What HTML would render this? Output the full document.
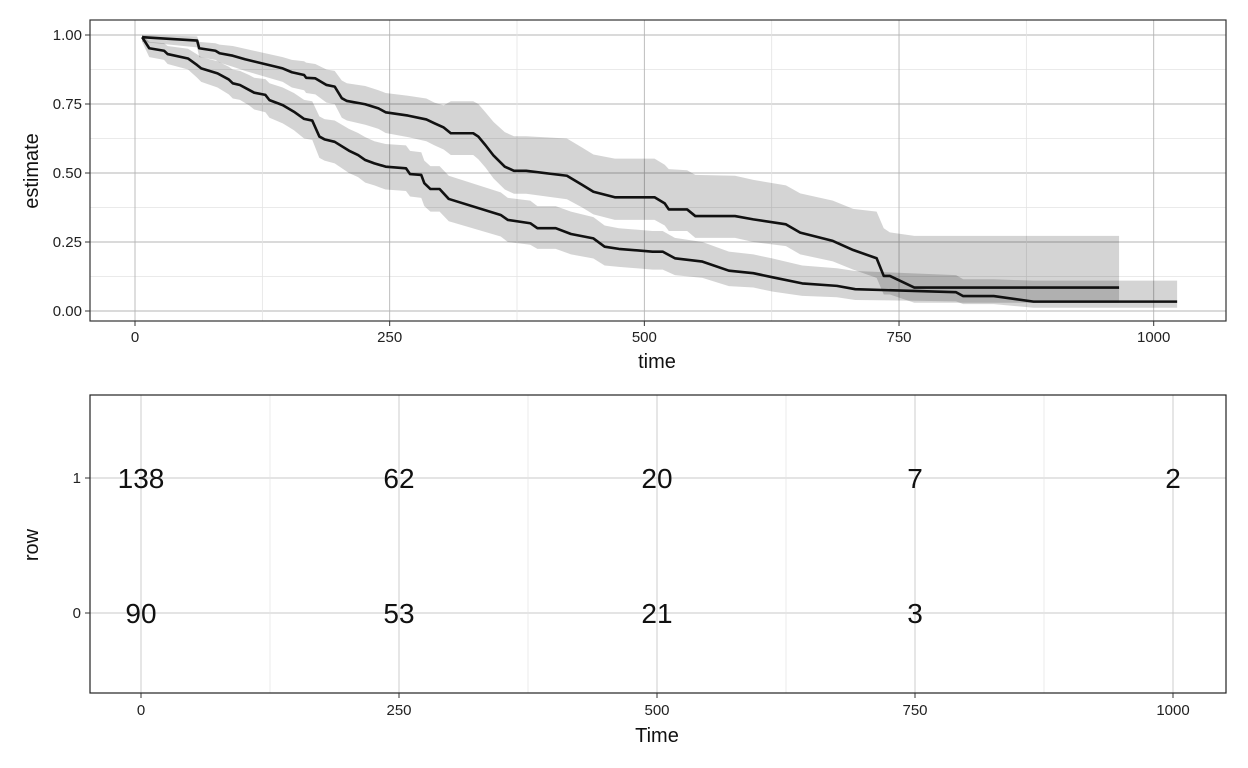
<!DOCTYPE html>
<html><head><meta charset="utf-8"><style>
html,body{margin:0;padding:0;background:#fff;}
svg{display:block;font-family:"Liberation Sans",sans-serif;}
</style></head><body>
<svg id="chart" width="1248" height="768" xmlns="http://www.w3.org/2000/svg"></svg>
<script>
// ---- data: survival curves ----
const g1Time=[7,61,63,79,83,96,108,145,154,166,168,177,188,196,203,208,226,239,246,268,286,294,303,310,332,337,344,352,363,372,384,424,439,450,471,510,520,524,542,550,589,607,639,653,685,705,728,735,741,765,966];
const g1Est=[.992,.980,.952,.943,.934,.925,.912,.879,.865,.855,.845,.843,.819,.813,.771,.761,.749,.734,.720,.708,.694,.680,.665,.644,.644,.632,.601,.563,.523,.508,.508,.490,.457,.432,.412,.412,.390,.368,.368,.344,.344,.332,.314,.284,.254,.221,.191,.127,.127,.085,.085];
const g1Lo=[.975,.955,.92,.91,.90,.885,.87,.83,.81,.80,.79,.785,.755,.75,.70,.69,.675,.66,.645,.63,.615,.60,.585,.565,.565,.55,.52,.48,.44,.425,.425,.405,.375,.35,.33,.33,.31,.29,.29,.265,.265,.25,.235,.205,.18,.15,.12,.06,.06,.03,.03];
const g1Hi=[1.0,.995,.975,.97,.965,.96,.95,.92,.91,.905,.90,.895,.875,.87,.835,.825,.815,.80,.79,.78,.77,.755,.745,.76,.76,.75,.72,.685,.648,.633,.633,.625,.592,.567,.552,.552,.53,.514,.51,.493,.49,.475,.455,.426,.40,.37,.36,.30,.285,.272,.272];
const g0Time=[7,14,28.5,32,52,61,65,81,92,96,103,112,117,128,132,145,156,166,174,181,186,196,210,219,226,235,246,266,270,281,284,290,299,308,359,366,388,395,413,428,450,461,475,508,518,530,557,583,607,626,655,689,707,806,813,843,882,1023];
const g0Est=[.992,.952,.943,.931,.915,.891,.879,.861,.839,.825,.819,.801,.791,.783,.764,.746,.722,.696,.690,.632,.622,.613,.581,.565,.547,.535,.523,.517,.496,.493,.463,.442,.442,.406,.348,.330,.318,.300,.300,.279,.263,.233,.225,.215,.215,.191,.179,.146,.137,.122,.100,.091,.079,.068,.054,.054,.034,.034];
const g0Lo=[.975,.92,.91,.895,.875,.845,.83,.81,.785,.77,.765,.745,.73,.72,.70,.68,.655,.625,.62,.555,.545,.535,.50,.485,.465,.455,.44,.435,.415,.41,.38,.36,.36,.325,.27,.25,.24,.225,.225,.205,.19,.165,.16,.15,.15,.13,.12,.09,.085,.07,.055,.05,.04,.035,.025,.025,.012,.012];
const g0Hi=[1.0,.975,.97,.96,.95,.93,.92,.905,.885,.875,.87,.855,.845,.84,.825,.81,.79,.765,.76,.705,.695,.69,.66,.645,.63,.615,.605,.60,.58,.575,.545,.525,.525,.49,.43,.41,.40,.38,.38,.36,.34,.31,.30,.29,.29,.265,.25,.215,.205,.19,.165,.155,.145,.13,.115,.115,.11,.11];
const yTicks=[0,0.25,0.5,0.75,1];
const yTickLabels=["0.00","0.25","0.50","0.75","1.00"];
const xTicks=[0,250,500,750,1000];
// ---- data: risk table ----
const riskRows=[1,0];
const riskTimes=[0,250,500,750,1000];
const risk1=[138,62,20,7,2];
const risk0=[90,53,21,3,null];

const NS="http://www.w3.org/2000/svg";
const svg=document.getElementById('chart');
function mk(tag,attrs,parent){const e=document.createElementNS(NS,tag);for(const k in attrs)e.setAttribute(k,attrs[k]);(parent||svg).appendChild(e);return e;}

const P1={l:90,r:1226,t:20,b:321};
const sx1=t=>135+t*1.0187;
const sy1=v=>311-v*276;
const P2={l:90,r:1226,t:395,b:693};
const sx2=t=>141+t*1.032;
const sy2=r=>613-r*135;

const gTop=mk('g',{});


for(let i=0;i<yTicks.length;i++){
  const v=yTicks[i];
  mk('line',{x1:P1.l,x2:P1.r,y1:sy1(v),y2:sy1(v),stroke:'#b5b5b5','stroke-width':0.9},gTop);
  if(i<yTicks.length-1){const m=(v+yTicks[i+1])/2;mk('line',{x1:P1.l,x2:P1.r,y1:sy1(m),y2:sy1(m),stroke:'#e3e3e3','stroke-width':0.8},gTop);}
}
for(let i=0;i<xTicks.length;i++){
  const v=xTicks[i];
  mk('line',{y1:P1.t,y2:P1.b,x1:sx1(v),x2:sx1(v),stroke:'#b5b5b5','stroke-width':0.9},gTop);
  const m=v+125;if(sx1(m)<P1.r)mk('line',{y1:P1.t,y2:P1.b,x1:sx1(m),x2:sx1(m),stroke:'#e3e3e3','stroke-width':0.8},gTop);
}

function linePath(T,V){let d='M'+sx1(T[0])+','+sy1(V[0]);for(let i=1;i<T.length;i++){d+=' L'+sx1(T[i])+','+sy1(V[i]);}return d;}
function bandPath(T,L,H){let d='M'+sx1(T[0])+','+sy1(H[0]);for(let i=1;i<T.length;i++){d+=' L'+sx1(T[i])+','+sy1(H[i]);}
  for(let i=T.length-1;i>=0;i--){d+=' L'+sx1(T[i])+','+sy1(L[i]);}d+=' Z';return d;}

const b1=mk('path',{d:bandPath(g1Time,g1Lo,g1Hi),fill:'#000','fill-opacity':0.17});


const b0=mk('path',{d:bandPath(g0Time,g0Lo,g0Hi),fill:'#000','fill-opacity':0.17});


const l1=mk('path',{d:linePath(g1Time,g1Est),fill:'none',stroke:'#111','stroke-width':2.6,'stroke-linejoin':'round'});


const l0=mk('path',{d:linePath(g0Time,g0Est),fill:'none',stroke:'#111','stroke-width':2.6,'stroke-linejoin':'round'});



const f1=mk('rect',{x:P1.l,y:P1.t,width:P1.r-P1.l,height:P1.b-P1.t,fill:'none',stroke:'#333','stroke-width':1.2});



for(let i=0;i<yTicks.length;i++){
  const y=sy1(yTicks[i]);
  mk('line',{x1:P1.l-5,x2:P1.l,y1:y,y2:y,stroke:'#333','stroke-width':1});
  const t=mk('text',{x:P1.l-8,y:y+5,'text-anchor':'end','font-size':15,fill:'#222'});t.textContent=yTickLabels[i];
  
  
}
for(let i=0;i<xTicks.length;i++){
  const x=sx1(xTicks[i]);
  mk('line',{x1:x,x2:x,y1:P1.b,y2:P1.b+5,stroke:'#333','stroke-width':1});
  const t=mk('text',{x:x,y:P1.b+21,'text-anchor':'middle','font-size':15,fill:'#222'});t.textContent=xTicks[i];
  
  
}
let tt=mk('text',{x:657,y:368,'text-anchor':'middle','font-size':20,fill:'#111'});tt.textContent='time';


tt=mk('text',{x:38,y:171,'text-anchor':'middle','font-size':20,fill:'#111',transform:'rotate(-90 38 171)'});tt.textContent='estimate';



const gB=mk('g',{});


for(const r of riskRows) mk('line',{x1:P2.l,x2:P2.r,y1:sy2(r),y2:sy2(r),stroke:'#c8c8c8','stroke-width':0.9},gB);
for(const v of riskTimes){
  mk('line',{y1:P2.t,y2:P2.b,x1:sx2(v),x2:sx2(v),stroke:'#c8c8c8','stroke-width':0.9},gB);
  const m=v+125;if(sx2(m)<P2.r)mk('line',{y1:P2.t,y2:P2.b,x1:sx2(m),x2:sx2(m),stroke:'#e6e6e6','stroke-width':0.8},gB);
}
const f2=mk('rect',{x:P2.l,y:P2.t,width:P2.r-P2.l,height:P2.b-P2.t,fill:'none',stroke:'#222','stroke-width':1.2});


const rowVals={1:risk1,0:risk0};
for(const r of riskRows){
  const y=sy2(r);
  mk('line',{x1:P2.l-5,x2:P2.l,y1:y,y2:y,stroke:'#333','stroke-width':1});
  const t=mk('text',{x:P2.l-9,y:y+5,'text-anchor':'end','font-size':15,fill:'#222'});t.textContent=r;
  
  
  const vals=rowVals[r];
  for(let i=0;i<riskTimes.length;i++){
    if(vals[i]===null)continue;
    const n=mk('text',{x:sx2(riskTimes[i]),y:y+10,'text-anchor':'middle','font-size':28,fill:'#111'});n.textContent=vals[i];
    
    
  }
}
for(const v of riskTimes){
  const x=sx2(v);
  mk('line',{x1:x,x2:x,y1:P2.b,y2:P2.b+5,stroke:'#333','stroke-width':1});
  const t=mk('text',{x:x,y:P2.b+22,'text-anchor':'middle','font-size':15,fill:'#222'});t.textContent=v;
  
  
}
tt=mk('text',{x:657,y:742,'text-anchor':'middle','font-size':20,fill:'#111'});tt.textContent='Time';


tt=mk('text',{x:38,y:545,'text-anchor':'middle','font-size':20,fill:'#111',transform:'rotate(-90 38 545)'});tt.textContent='row';


</script>
</body></html>
